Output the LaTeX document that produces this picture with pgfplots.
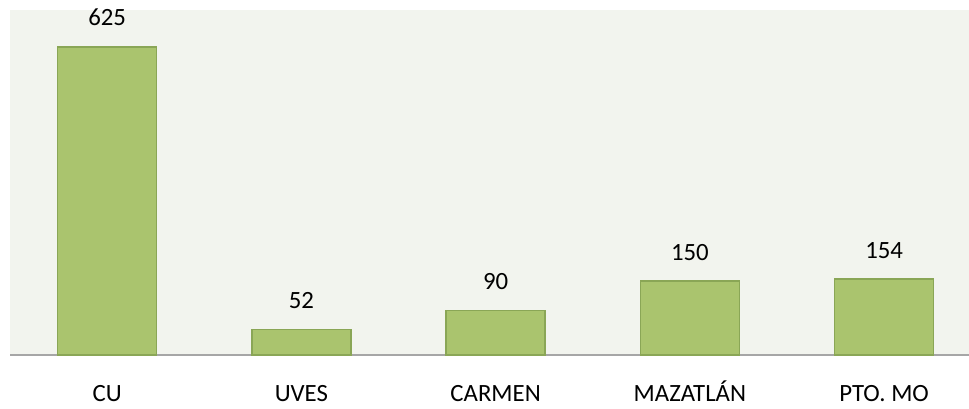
\documentclass[border=0pt]{standalone}
\usepackage{pgfplots}
\pgfplotsset{compat=1.18}
\usepackage{fontspec}
\setmainfont{Carlito}
\definecolor{bgc}{HTML}{F2F4EE}
\definecolor{barc}{HTML}{AAC46E}
\definecolor{barb}{HTML}{8AA656}
\definecolor{basec}{HTML}{A6A6A6}
\begin{document}
\begin{tikzpicture}
\begin{axis}[
  scale only axis,
  width=959bp, height=345bp,
  at={(0,0)}, anchor=south west,
  xmin=-0.5, xmax=4.437,
  ymin=0, ymax=700,
  axis background/.style={fill=bgc},
  axis x line*=bottom,
  axis y line=none,
  x axis line style={-, draw=basec, line width=1.5bp},
  xtick={0,1,2,3,4},
  xticklabels={CU,UVES,CARMEN,MAZATLÁN,PTO. MO},
  xtick style={draw=none},
  xticklabel style={anchor=base, yshift=-42bp, font=\fontsize{24.8bp}{28bp}\selectfont},
  /pgf/number format/assume math mode=true,
  ybar,
  bar width=99bp,
  nodes near coords,
  nodes near coords style={anchor=base, yshift=21bp, font=\fontsize{24.8bp}{28bp}\selectfont, text=black},
  clip=false,
]
\addplot[fill=barc, draw=barb, line width=1.5bp] coordinates {(0,625) (1,52) (2,90) (3,150) (4,154)};
\end{axis}
\pgfresetboundingbox
\path[use as bounding box] (-10bp,-54bp) rectangle (959bp,355bp);
\end{tikzpicture}
\end{document}
